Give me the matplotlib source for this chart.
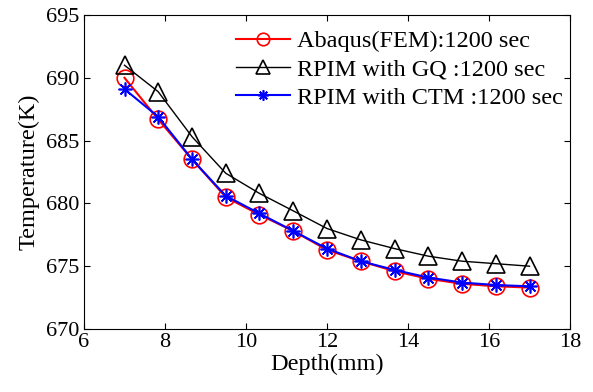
import numpy as np
import matplotlib
matplotlib.use("Agg")
import matplotlib.pyplot as plt

# -*- coding: UTF-8 -*-

plt.rcParams['font.family'] = ['Liberation Serif', 'DejaVu Serif']

depth = [7.0, 7.83, 8.67, 9.5, 10.33, 11.17, 12.0, 12.83, 13.67, 14.5, 15.33, 16.17, 17.0]
temp_fem = [690.0, 686.7, 683.5, 680.5, 679.1, 677.8, 676.3, 675.4, 674.6, 674.0, 673.6, 673.4, 673.3]
temp_gq = [691.0, 688.9, 685.3, 682.4, 680.8, 679.4, 678.0, 677.1, 676.4, 675.8, 675.4, 675.2, 675.0]
temp_ctm = [689.1, 686.9, 683.5, 680.6, 679.2, 677.8, 676.4, 675.4, 674.7, 674.1, 673.7, 673.5, 673.4]

fig = plt.figure(figsize=(5.93, 3.92), dpi=100)
ax = fig.add_axes([84 / 593, 1 - 329 / 392, (570 - 84) / 593, (329 - 15) / 392])

ax.plot(depth, temp_fem, color='red', linewidth=1.5, marker='o', markersize=12,
        markerfacecolor='none', markeredgewidth=1.2, label='Abaqus(FEM):1200 sec')
ax.plot(depth, temp_gq, color='black', linewidth=1.0, marker='^', markersize=13,
        markerfacecolor='none', markeredgewidth=1.2, label='RPIM with GQ :1200 sec')
ax.plot(depth, temp_ctm, color='blue', linewidth=1.5, marker=(8, 2, 0), markersize=10,
        markeredgecolor='blue', markeredgewidth=1.2, label='RPIM with CTM :1200 sec')

ax.set_xlim(6, 18)
ax.set_ylim(670, 695)
ax.set_xticks(np.arange(6, 19, 2))
ax.set_yticks(np.arange(670, 696, 5))
ax.tick_params(direction='in', top=True, right=True, labelsize=16, length=4)
ax.tick_params(axis='x', pad=3)
ax.tick_params(axis='y', pad=3)
for s in ax.spines.values():
    s.set_linewidth(0.8)

ax.set_xlabel('Depth(mm)', fontsize=17.5, labelpad=1)
ax.set_ylabel('Temperature(K)', fontsize=17.5, labelpad=5)

ax.legend(loc='upper right', frameon=False, fontsize=17.5, markerscale=0.75,
          handlelength=2.2, handletextpad=0.3, labelspacing=0.26,
          borderaxespad=0.0, bbox_to_anchor=(1.005, 0.983))

fig.savefig('out.png', dpi=100)
